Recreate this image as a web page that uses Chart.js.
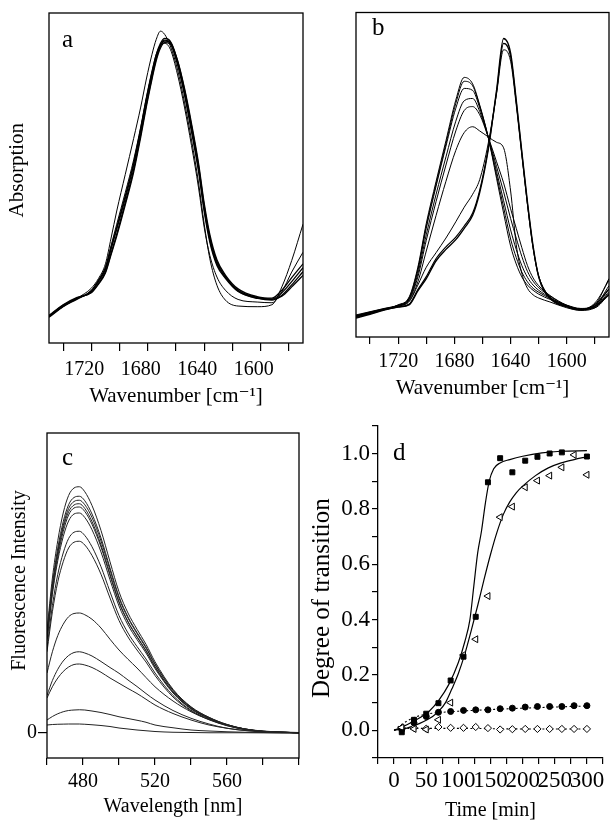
<!DOCTYPE html>
<html>
<head>
<meta charset="utf-8">
<script src="https://cdn.jsdelivr.net/npm/chart.js@4.4.0/dist/chart.umd.min.js"></script>
<style>
  body { margin: 0; background: #fff; }
  #wrap { position: relative; width: 613px; height: 823px; }
  canvas { position: absolute; }
</style>
</head>
<body>
<div id="wrap">
  <canvas id="chartA" width="306" height="410" style="left:0;top:0"></canvas>
  <canvas id="chartB" width="307" height="410" style="left:306px;top:0"></canvas>
  <canvas id="chartC" width="306" height="413" style="left:0;top:410px"></canvas>
  <canvas id="chartD" width="307" height="413" style="left:306px;top:410px"></canvas>
</div>
<script>
// ---- panel a: IR spectra, no transition ----
const irTicks = [1740, 1720, 1700, 1680, 1660, 1640, 1620, 1600, 1580]
const irLabels = [1720, 1680, 1640, 1600]
const aX = [1750, 1740, 1730, 1720, 1715, 1710, 1706, 1702, 1696, 1690, 1685, 1681, 1677, 1674, 1671, 1668, 1664, 1659, 1654, 1649, 1644, 1640, 1636, 1631, 1625, 1616, 1602, 1592, 1585, 1578, 1570]
const a1 = [8.0, 11.2, 13.5, 15.6, 18.6, 22.3, 28.5, 34.5, 43.8, 53.9, 64.5, 73.5, 81.5, 86.8, 90.3, 91.8, 90.8, 84.5, 75.2, 64.0, 51.9, 39.8, 30.5, 23.5, 19.6, 15.6, 13.5, 13.0, 14.5, 17.6, 21.6]
const a2 = [8.2, 11.4, 13.7, 15.4, 18.0, 21.6, 27.2, 33.0, 42.5, 52.6, 63.2, 72.3, 80.6, 86.2, 90.0, 91.5, 91.2, 85.6, 76.8, 65.8, 53.6, 41.5, 32.0, 24.6, 20.2, 16.0, 13.8, 13.3, 15.2, 18.6, 22.8]
const a3 = [7.8, 11.0, 13.3, 15.8, 18.9, 22.8, 29.0, 35.0, 44.5, 54.6, 65.0, 74.0, 82.0, 87.4, 90.8, 92.3, 91.4, 85.2, 76.0, 65.0, 52.8, 40.6, 31.2, 24.0, 19.9, 15.8, 13.6, 13.2, 14.2, 17.0, 20.5]
const a4 = [8.4, 11.6, 13.8, 15.2, 17.8, 21.2, 26.8, 32.4, 41.8, 51.8, 62.4, 71.6, 80.0, 85.6, 89.4, 91.0, 90.6, 85.8, 77.2, 66.5, 54.4, 42.3, 32.8, 25.2, 20.6, 16.4, 14.0, 13.6, 16.0, 19.8, 24.0]
const a5 = [8.1, 11.3, 13.4, 16.0, 19.0, 23.0, 29.5, 36.0, 45.5, 55.5, 65.5, 74.5, 82.5, 87.5, 90.2, 90.8, 89.0, 81.5, 71.5, 59.8, 47.0, 35.0, 26.5, 20.0, 16.0, 13.2, 12.4, 12.2, 15.5, 21.5, 27.5]
const a6 = [8.0, 11.0, 13.6, 16.6, 19.5, 24.0, 31.8, 40.0, 51.0, 62.0, 71.5, 80.0, 87.5, 92.0, 94.5, 93.5, 90.0, 83.0, 73.0, 61.5, 48.5, 36.0, 25.5, 17.5, 13.0, 11.2, 11.0, 11.6, 17.0, 25.0, 36.0]

// ---- panel b: IR spectra, transition ----
const bX = [1750, 1740, 1730, 1720, 1712, 1706, 1700, 1693, 1686, 1679, 1673, 1667, 1662, 1656, 1650, 1645, 1640, 1636, 1632, 1628, 1624, 1620, 1612, 1600, 1590, 1580, 1570]
const b1 = [6.8, 7.8, 8.8, 9.9, 12.5, 21.5, 35.0, 48.0, 60.5, 73.0, 80.0, 78.0, 71.5, 61.7, 48.9, 38.2, 28.0, 22.5, 18.5, 16.0, 14.4, 13.2, 11.6, 9.8, 8.8, 10.0, 18.0]
const b2 = [6.5, 7.6, 8.6, 9.8, 12.2, 21.0, 34.2, 47.2, 59.6, 72.0, 78.8, 77.4, 71.2, 61.7, 49.8, 40.0, 30.2, 24.5, 20.0, 17.0, 15.0, 13.8, 11.9, 9.6, 8.6, 9.6, 15.8]
const b3 = [6.6, 7.7, 8.7, 9.8, 12.0, 20.5, 33.5, 46.5, 58.8, 70.5, 76.6, 76.0, 70.6, 61.7, 51.0, 42.0, 33.0, 27.0, 22.0, 18.4, 16.0, 14.4, 12.2, 9.6, 8.5, 9.4, 14.8]
const b4 = [6.4, 7.5, 8.6, 9.7, 11.8, 19.5, 31.5, 44.0, 55.5, 66.5, 72.8, 73.5, 69.5, 61.7, 52.5, 44.8, 36.5, 30.5, 24.8, 20.2, 17.2, 15.2, 12.6, 9.7, 8.6, 9.2, 14.0]
const b5 = [6.5, 7.5, 8.6, 9.6, 11.6, 18.5, 29.8, 41.8, 53.0, 63.5, 69.8, 71.0, 68.5, 61.7, 54.0, 47.5, 39.5, 33.5, 27.5, 22.0, 18.2, 15.8, 12.8, 9.8, 8.6, 9.0, 13.2]
const b6 = [6.2, 7.4, 8.4, 9.5, 11.2, 17.0, 26.5, 37.5, 48.0, 57.5, 63.0, 64.8, 63.5, 61.7, 60.0, 58.3, 45.0, 28.5, 19.5, 15.0, 13.0, 12.0, 10.8, 9.0, 8.2, 9.0, 13.5]
const b7 = [5.8, 7.0, 8.3, 9.2, 10.0, 14.2, 18.0, 23.5, 27.0, 30.0, 33.5, 37.5, 44.5, 57.5, 76.0, 92.0, 87.5, 73.0, 57.0, 41.5, 28.0, 18.5, 11.9, 9.3, 8.3, 9.5, 13.0]
const b8 = [6.0, 7.2, 8.4, 9.3, 10.2, 14.6, 18.6, 24.2, 27.8, 30.8, 34.2, 38.2, 45.2, 58.0, 75.5, 90.5, 86.5, 72.5, 56.5, 41.0, 27.5, 18.6, 12.1, 9.4, 8.4, 10.0, 14.8]
const b9 = [6.2, 7.4, 8.6, 9.5, 11.0, 16.0, 21.5, 26.0, 30.5, 35.5, 40.0, 44.0, 48.5, 59.5, 75.0, 88.5, 85.0, 71.5, 56.0, 40.8, 27.5, 18.8, 12.3, 9.5, 8.5, 10.5, 17.5]

// ---- panel c: fluorescence spectra ----
const cTicks = [460, 480, 500, 520, 540, 560, 580, 600]
const cLabels = [480, 520, 560]
const cX = [460, 463, 466, 469, 472, 475, 478, 481, 485, 490, 495, 500, 505, 510, 515, 520, 530, 540, 550, 560, 570, 580, 590, 600]
const c1 = [41, 62, 77, 88, 95, 98, 98.5, 96.5, 91, 81, 68.5, 56.5, 48, 41.5, 35.5, 28.5, 17.5, 10.5, 6.3, 3.4, 1.6, 0.7, 0.3, 0.1]
const c2 = [39.5, 59.5, 74.0, 84.5, 91.3, 94.2, 94.7, 92.9, 87.6, 78.0, 66.0, 54.6, 46.4, 40.2, 34.4, 27.7, 17.1, 10.3, 6.2, 3.4, 1.6, 0.7, 0.3, 0.1]
const c3 = [38.0, 58.0, 72.5, 83.0, 89.8, 92.6, 93.1, 91.3, 86.2, 76.8, 65.2, 54.0, 46.0, 39.8, 34.0, 27.4, 17.0, 10.2, 6.1, 3.3, 1.6, 0.7, 0.3, 0.1]
const c4 = [39.0, 58.5, 72.0, 82.0, 88.5, 91.2, 91.7, 89.8, 84.6, 75.2, 63.6, 52.6, 44.6, 38.6, 33.0, 26.6, 16.4, 9.9, 5.9, 3.2, 1.5, 0.6, 0.3, 0.1]
const c5 = [37.5, 56.5, 70.5, 80.5, 87.2, 90.0, 90.4, 88.6, 83.5, 74.4, 63.0, 52.2, 44.4, 38.4, 32.8, 26.4, 16.3, 9.8, 5.9, 3.2, 1.5, 0.6, 0.3, 0.1]
const c6 = [37.0, 55.5, 69.0, 78.5, 84.8, 87.6, 88.0, 86.2, 81.3, 72.4, 61.3, 50.8, 43.2, 37.4, 32.0, 25.8, 16.0, 9.6, 5.8, 3.1, 1.5, 0.6, 0.3, 0.1]
const c7 = [34.0, 51.0, 63.5, 72.0, 77.8, 80.3, 80.7, 79.0, 74.5, 66.5, 56.5, 47.0, 40.0, 34.6, 29.6, 24.0, 15.0, 9.1, 5.5, 3.0, 1.4, 0.6, 0.3, 0.1]
const c8 = [32.5, 48.5, 60.5, 68.5, 74.0, 76.3, 76.7, 75.2, 71.0, 63.5, 54.0, 45.0, 38.4, 33.2, 28.4, 23.0, 14.4, 8.8, 5.3, 2.9, 1.4, 0.6, 0.3, 0.1]
const c9 = [24.0, 32.5, 39.0, 43.5, 46.5, 47.8, 48.0, 47.3, 45.5, 42.0, 37.5, 33.2, 29.5, 26.0, 22.2, 18.5, 12.8, 8.5, 5.4, 3.2, 1.6, 0.8, 0.4, 0.2]
const c10 = [15.0, 21.0, 25.5, 28.8, 31.0, 32.2, 32.5, 32.0, 30.8, 28.6, 26.2, 23.9, 21.2, 18.6, 15.8, 13.2, 9.0, 5.9, 3.6, 1.9, 1.0, 0.5, 0.2, 0.1]
const c11 = [14.0, 18.5, 22.0, 24.6, 26.4, 27.4, 27.6, 27.2, 26.2, 24.3, 22.0, 19.9, 17.8, 15.8, 13.5, 11.2, 7.8, 5.2, 3.2, 1.9, 1.0, 0.5, 0.2, 0.1]
const c12 = [5.2, 6.6, 7.7, 8.5, 9.0, 9.2, 9.3, 9.2, 8.8, 8.2, 7.4, 6.5, 5.8, 5.1, 4.3, 3.2, 2.1, 1.2, 0.8, 0.5, 0.3, 0.2, 0.1, 0.1]
const c13 = [3.2, 3.4, 3.5, 3.55, 3.6, 3.6, 3.6, 3.5, 3.3, 3.0, 2.6, 2.0, 1.6, 1.2, 0.9, 0.6, 0.3, 0.2, 0.1, 0.1, 0.1, 0.05, 0.0, 0.0]

// ---- panel d: degree of transition vs time ----
const dXTicks = [-25, 0, 25, 50, 75, 100, 125, 150, 175, 200, 225, 250, 275, 300, 325]
const dXLabels = [0, 50, 100, 150, 200, 250, 300]
const dYTicks = [-0.1, 0, 0.1, 0.2, 0.3, 0.4, 0.5, 0.6, 0.7, 0.8, 0.9, 1.0, 1.1]
const dYLabels = [0, 0.2, 0.4, 0.6, 0.8, 1.0]
const dT = [12, 31, 50, 69, 88, 108, 127, 146, 165, 184, 204, 223, 242, 261, 280, 300]
const sqT = [12, 31, 50, 69, 88, 108, 127, 146, 165, 184, 204, 223, 242, 261, 300]
const sqV = [-0.007, 0.038, 0.06, 0.098, 0.18, 0.266, 0.41, 0.896, 0.983, 0.932, 0.974, 0.988, 1.0, 1.004, 0.989]
const triV = [0.01, 0.005, 0.003, 0.038, 0.1, 0.272, 0.329, 0.485, 0.77, 0.808, 0.878, 0.902, 0.92, 0.95, 0.995, 0.923]
const circV = [0.003, 0.027, 0.05, 0.065, 0.068, 0.072, 0.074, 0.074, 0.078, 0.08, 0.084, 0.086, 0.086, 0.086, 0.089, 0.089]
const diaV = [0.009, 0.009, 0.006, 0.012, 0.009, 0.009, 0.012, 0.008, 0.003, 0.004, 0.005, 0.005, 0.005, 0.005, 0.005, 0.005]
const steepT = [0, 20, 40, 55, 70, 85, 100, 110, 118, 124, 130, 136, 142, 148, 155, 165, 180, 200, 230, 260, 300]
const steepV = [0.0, 0.02, 0.045, 0.07, 0.11, 0.165, 0.245, 0.32, 0.40, 0.52, 0.64, 0.72, 0.82, 0.9, 0.945, 0.966, 0.978, 0.99, 1.002, 1.008, 1.01]
const slowT = [0, 20, 40, 60, 70, 80, 90, 100, 110, 120, 130, 140, 150, 160, 170, 180, 190, 200, 220, 240, 260, 280, 300]
const slowV = [0.0, 0.008, 0.025, 0.05, 0.07, 0.1, 0.15, 0.205, 0.275, 0.36, 0.45, 0.545, 0.635, 0.715, 0.78, 0.825, 0.858, 0.882, 0.92, 0.948, 0.966, 0.978, 0.988]
const circFitT = [0, 10, 20, 30, 45, 60, 80, 100, 150, 200, 250, 300]
const circFitV = [0.0, 0.018, 0.033, 0.045, 0.056, 0.062, 0.066, 0.069, 0.075, 0.08, 0.084, 0.088]
const diaFitT = [0, 12, 50, 100, 150, 200, 250, 300]
const diaFitV = [0.0, 0.006, 0.007, 0.007, 0.006, 0.005, 0.005, 0.005]

Chart.defaults.font.family = "'Liberation Serif', 'DejaVu Serif', serif"
Chart.defaults.font.size = 20
Chart.defaults.color = '#000'

function pts(xs, ys) {
  return xs.map((x, i) => ({x: x, y: ys[i]}))
}

// one spectrum line
function curve(xs, ys, width, color) {
  return {data: pts(xs, ys), showLine: true, borderColor: color || '#000', borderWidth: width || 1,
    pointRadius: 0, cubicInterpolationMode: 'monotone'}
}

// box round the plot area and the panel letter
const framePlugin = {
  id: 'frame',
  afterDraw(chart, args, opts) {
    const {ctx, chartArea} = chart
    ctx.save()
    if (opts.box) {
      ctx.strokeStyle = '#000'
      ctx.lineWidth = 1.3
      ctx.strokeRect(chartArea.left, chartArea.top, chartArea.right - chartArea.left, chartArea.bottom - chartArea.top)
    }
    ctx.fillStyle = '#000'
    ctx.font = "25px 'Liberation Serif', serif"
    ctx.textBaseline = 'alphabetic'
    ctx.fillText(opts.letter, opts.lx, opts.ly)
    ctx.restore()
  }
}

// bottom axis with a fixed height and a given list of ticks
function bottomAxis(o) {
  return {
    type: 'linear', min: o.min, max: o.max, reverse: !!o.reverse,
    afterBuildTicks: s => { s.ticks = o.ticks.map(v => ({value: v})) },
    afterFit: s => { s.height = o.height },
    border: {display: !!o.border, color: '#000', width: 1.3},
    grid: {drawOnChartArea: false, drawTicks: true, tickLength: o.tickLength, color: '#000', lineWidth: 1.2},
    ticks: {autoSkip: false, maxRotation: 0, padding: o.pad, labelOffset: o.labelOffset || 0,
      font: {size: o.fontSize || 20}, callback: v => o.labels.includes(v) ? String(v) : ''},
    title: {display: true, text: o.title, font: {size: o.titleSize || 21}, padding: {top: 0, bottom: o.titleBottom}}
  }
}

const common = {
  type: 'scatter',
  plugins: [framePlugin]
}
const baseOpts = {
  responsive: false, animation: false, events: [],
  plugins: {legend: {display: false}, tooltip: {enabled: false}}
}

// Panel a
new Chart(document.getElementById('chartA'), {
  ...common,
  data: {datasets: [
    curve(aX, a1, 1.3), curve(aX, a2, 1.3), curve(aX, a3, 1.3), curve(aX, a4, 1.3),
    curve(aX, a5, 1), curve(aX, a6, 1)
  ]},
  options: {
    ...baseOpts,
    layout: {padding: {left: 0, top: 13, right: 3, bottom: 0}},
    plugins: {...baseOpts.plugins, frame: {box: true, letter: 'a', lx: 62, ly: 47}},
    scales: {
      x: bottomAxis({min: 1570, max: 1750, reverse: true, ticks: irTicks, labels: irLabels, height: 67,
        tickLength: 8, pad: 7, labelOffset: -7, title: 'Wavenumber [cm\u207B\u00B9]', titleBottom: 1}),
      y: {
        min: 0, max: 100,
        afterFit: s => { s.width = 49 },
        ticks: {display: false}, grid: {display: false}, border: {display: false},
        title: {display: true, text: '   Absorption', font: {size: 21}, padding: {top: 5, bottom: 0}}
      }
    }
  }
})

// Panel b
new Chart(document.getElementById('chartB'), {
  ...common,
  data: {datasets: [
    curve(bX, b1), curve(bX, b2), curve(bX, b3), curve(bX, b4), curve(bX, b5), curve(bX, b6),
    curve(bX, b7, 1.4), curve(bX, b8, 1.2), curve(bX, b9)
  ]},
  options: {
    ...baseOpts,
    layout: {padding: {left: 50, top: 12.5, right: 4, bottom: 0}},
    plugins: {...baseOpts.plugins, frame: {box: true, letter: 'b', lx: 66, ly: 35}},
    scales: {
      x: bottomAxis({min: 1570, max: 1750, reverse: true, ticks: irTicks, labels: irLabels, height: 73,
        tickLength: 7, pad: 6, title: 'Wavenumber [cm\u207B\u00B9]', titleBottom: 9}),
      y: {min: 0, max: 100, display: false}
    }
  }
})

// Panel c
new Chart(document.getElementById('chartC'), {
  ...common,
  data: {datasets: [c1, c2, c3, c4, c5, c6, c7, c8, c9, c10, c11, c12, c13].map(c => curve(cX, c, 1, '#222'))},
  options: {
    ...baseOpts,
    layout: {padding: {left: 0, top: 23, right: 7, bottom: 0}},
    plugins: {...baseOpts.plugins, frame: {box: true, letter: 'c', lx: 62, ly: 54.5}},
    scales: {
      x: bottomAxis({min: 460, max: 600, ticks: cTicks, labels: cLabels, height: 65,
        tickLength: 7, pad: 5, title: 'Wavelength [nm]', titleSize: 20, titleBottom: 4}),
      y: {
        min: -10, max: 120,
        afterBuildTicks: s => { s.ticks = [{value: 0}] },
        afterFit: s => { s.width = 47 },
        border: {display: false},
        grid: {drawOnChartArea: false, drawTicks: true, tickLength: 9, color: '#000', lineWidth: 1.2},
        ticks: {padding: 1, font: {size: 20}, callback: v => String(v)},
        title: {display: true, text: '      Fluorescence Intensity', font: {size: 20}, padding: {top: 8, bottom: 0}}
      }
    }
  }
})

// Panel d
function marks(xs, ys, style, fill, radius, rotation) {
  return {data: pts(xs, ys), showLine: false, pointStyle: style, pointRadius: radius, rotation: rotation || 0,
    pointBackgroundColor: fill, pointBorderColor: '#000', pointBorderWidth: 1}
}
function fitLine(xs, ys, dash) {
  return {data: pts(xs, ys), showLine: true, borderColor: '#000', borderWidth: dash ? 1.1 : 1.2,
    borderDash: dash ? [2, 2.5] : [], pointRadius: 0, cubicInterpolationMode: 'monotone'}
}

new Chart(document.getElementById('chartD'), {
  ...common,
  data: {datasets: [
    marks(sqT, sqV, 'rect', '#000', 3.5),
    marks(dT, triV, 'triangle', '#fff', 4, -90),
    marks(dT, circV, 'circle', '#000', 3),
    marks(dT, diaV, 'rectRot', '#fff', 3.6),
    fitLine(steepT, steepV, false),
    fitLine(slowT, slowV, false),
    fitLine(circFitT, circFitV, true),
    fitLine(diaFitT, diaFitV, true)
  ]},
  options: {
    ...baseOpts,
    layout: {padding: {left: 0, top: 15, right: 10, bottom: 0}},
    plugins: {...baseOpts.plugins, frame: {box: false, letter: 'd', lx: 87, ly: 50}},
    scales: {
      x: bottomAxis({min: -25, max: 325, ticks: dXTicks, labels: dXLabels, height: 65, border: true,
        tickLength: 6, pad: 3, fontSize: 23, title: 'Time [min]', titleSize: 20, titleBottom: 0}),
      y: {
        min: -0.1, max: 1.1,
        afterBuildTicks: s => { s.ticks = dYTicks.map(v => ({value: v})) },
        afterFit: s => { s.width = 72 },
        border: {display: true, color: '#000', width: 1.3},
        grid: {drawOnChartArea: false, drawTicks: true, tickLength: 6, color: '#000', lineWidth: 1.2},
        ticks: {autoSkip: false, padding: 2, font: {size: 23}, callback: v => dYLabels.includes(v) ? v.toFixed(1) : ''},
        title: {display: true, text: 'Degree of transition  ', font: {size: 25}, padding: {top: 1, bottom: 0}}
      }
    }
  }
})
</script>
</body>
</html>
